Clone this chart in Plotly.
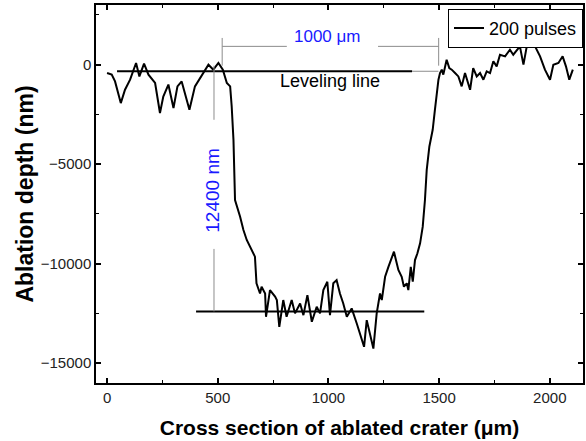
import plotly.graph_objects as go

# ---- data ----
pos_um = [0, 21, 36, 62, 81, 104, 131, 146, 167, 187, 217, 239, 254, 277, 300, 318, 337, 372, 397, 428,
          458, 480, 503, 523, 541, 556, 563, 571, 578, 601, 616, 631, 646, 668, 675, 691, 698, 714, 718, 736,
          759, 767, 778, 796, 811, 834, 849, 872, 887, 905, 925, 947, 962, 977, 995, 1007, 1022, 1037, 1052, 1067,
          1083, 1105, 1128, 1161, 1173, 1188, 1203, 1218, 1233, 1241, 1256, 1271, 1281, 1296, 1305, 1316, 1331, 1341, 1354, 1361,
          1372, 1381, 1391, 1402, 1414, 1426, 1436, 1444, 1456, 1471, 1481, 1497, 1504, 1512, 1519, 1534, 1546, 1557, 1572, 1587,
          1602, 1617, 1640, 1654, 1670, 1685, 1700, 1715, 1730, 1745, 1760, 1775, 1798, 1820, 1835, 1851, 1865, 1881, 1896, 1926,
          1941, 1956, 1978, 2001, 2016, 2039, 2058, 2073, 2088, 2104]
depth_nm = [-420, -500, -840, -1930, -1260, -755, 85, -590, 50, -500, -920, -2430, -1600, -1000, -2180, -1090, -840, -2270, -1090, -500,
            0, -250, 85, -250, -920, -1090, -2100, -3780, -6800, -7640, -8310, -8810, -9150, -9650, -10990, -11500, -11160, -11500, -12670, -11330,
            -11660, -11830, -13180, -11830, -12670, -11830, -12500, -12000, -12590, -11580, -12920, -12170, -12500, -11330, -10910, -12590, -10990, -10830, -11500, -12000,
            -12670, -12250, -13010, -14180, -12840, -13510, -14270, -12500, -11500, -11830, -10660, -10160, -9820, -9400, -9820, -10320, -10660, -11160, -10990, -11330,
            -10160, -10910, -9820, -9480, -8980, -8140, -6800, -5290, -4110, -3270, -2270, -755, -420, -250, -500, 250, -170, -250, -420, -590,
            -1090, -420, -1260, -170, -590, -420, -755, -340, -420, 170, -85, 500, 420, 755, 500, 755, 920, 0, 920, 1090,
            755, 420, -250, -755, 0, 85, 420, -85, -755, -250]
series_name = "200 pulses"

# annotation geometry values
level_y = -330
level_x = [45, 1378]
level_x_faint = [1378, 1497]
bottom_y = -12400
bottom_x = [402, 1433]
depth_x = 483
depth_seg_top = [-50, -2770]
depth_seg_bot = [-9260, -12400]
width_x = [520, 1498]
width_bar_y = 921
width_gap = [812, 1224]
width_tick_y = [-50, 1344]
depth_text = "12400 nm"
width_text = "1000 μm"
level_text = "Leveling line"

FONT = "Arial, Liberation Sans, sans-serif"
GRAY = "#8c8c8c"
BLUE = "#1a1aff"

fig = go.Figure()
fig.add_trace(go.Scatter(x=pos_um, y=depth_nm, mode="lines", name=series_name,
                         line=dict(color="black", width=2)))

def seg(x0, y0, x1, y1, color, w):
    fig.add_shape(type="line", xref="x", yref="y", x0=x0, y0=y0, x1=x1, y1=y1,
                  line=dict(color=color, width=w))

# leveling line
seg(level_x[0], level_y, level_x[1], level_y, "black", 2)
seg(level_x_faint[0], level_y, level_x_faint[1], level_y, GRAY, 1)
# bottom line
seg(bottom_x[0], bottom_y, bottom_x[1], bottom_y, "black", 2)
# depth dimension
seg(depth_x, depth_seg_top[0], depth_x, depth_seg_top[1], GRAY, 1)
seg(depth_x, depth_seg_bot[0], depth_x, depth_seg_bot[1], GRAY, 1)
# width dimension
seg(width_x[0], width_tick_y[0], width_x[0], width_tick_y[1], GRAY, 1)
seg(width_x[1], width_tick_y[0], width_x[1], width_tick_y[1], GRAY, 1)
seg(width_x[0], width_bar_y, width_gap[0], width_bar_y, GRAY, 1)
seg(width_gap[1], width_bar_y, width_x[1], width_bar_y, GRAY, 1)

fig.add_annotation(x=996, y=1410, xref="x", yref="y", text=width_text,
                   showarrow=False, font=dict(family=FONT, size=17, color=BLUE))
fig.add_annotation(x=1005, y=-840, xref="x", yref="y", text=level_text,
                   showarrow=False, font=dict(family=FONT, size=18, color="black"))
fig.add_annotation(x=478, y=-6290, xref="x", yref="y", text=depth_text, textangle=-90,
                   showarrow=False, font=dict(family=FONT, size=19, color=BLUE))

axis_common = dict(showline=True, linecolor="black", linewidth=1.5, mirror="ticks",
                   ticks="inside", ticklen=5, tickwidth=1.5, tickcolor="black",
                   showgrid=False, zeroline=False, tickformat="d",
                   tickfont=dict(family=FONT, size=15, color="#222222"))

fig.update_xaxes(range=[-50, 2150], dtick=500, tick0=0,
                 minor=dict(ticks="inside", ticklen=3, tickwidth=1, dtick=250, tickcolor="black", showgrid=False),
                 title=dict(text="Cross section of ablated crater (μm)", standoff=16,
                            font=dict(family=FONT, size=21, color="black", weight="bold")),
                 **axis_common)
fig.update_yaxes(range=[-16000, 3000], dtick=5000, tick0=0,
                 minor=dict(ticks="inside", ticklen=3, tickwidth=1, dtick=2500, tickcolor="black", showgrid=False),
                 title=dict(text="Ablation depth (nm)", standoff=1,
                            font=dict(family=FONT, size=23, color="black", weight="bold")),
                 **axis_common)

fig.update_layout(
    width=586, height=441,
    margin=dict(l=96, r=3, t=5, b=58, autoexpand=False),
    paper_bgcolor="white", plot_bgcolor="white",
    showlegend=True,
    legend=dict(x=1, y=0.99, xanchor="right", yanchor="top",
                bordercolor="black", borderwidth=1, bgcolor="white",
                font=dict(family=FONT, size=18, color="black"),
                tracegroupgap=0),
)

fig.write_html("out.html", config={"displayModeBar": False},
               post_script="document.body.style.margin='0';")
